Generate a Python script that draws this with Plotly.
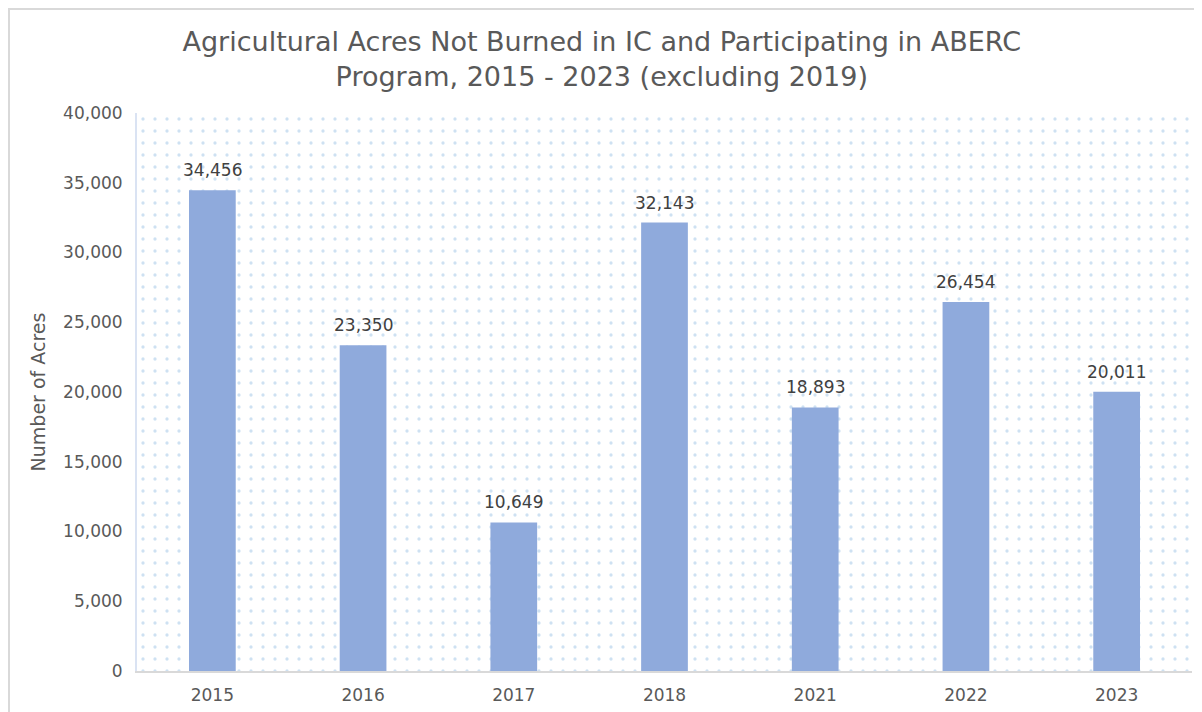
import plotly.graph_objects as go

years = ["2015", "2016", "2017", "2018", "2021", "2022", "2023"]
acres = [34456, 23350, 10649, 32143, 18893, 26454, 20011]
y_ticks = [0, 5000, 10000, 15000, 20000, 25000, 30000, 35000, 40000]

FONT = "DejaVu Sans, Verdana, sans-serif"
GREY = "#595959"

fig = go.Figure()

# dotted background texture on the base (hidden) axes
fig.add_trace(go.Scatter(
    x=[0, 1, 1, 0, 0], y=[0, 0, 1, 1, 0],
    xaxis="x", yaxis="y", mode="lines", line=dict(width=0),
    fill="toself", fillcolor="rgba(0,0,0,0)",
    fillpattern=dict(shape=".", size=12, solidity=0.06, fgcolor="#9dc3e6", bgcolor="white"),
    hoverinfo="skip", showlegend=False,
))

# bars on the overlay axes (drawn above the texture)
fig.add_trace(go.Bar(
    x=years, y=acres, xaxis="x2", yaxis="y2",
    marker=dict(color="#8faadc", line=dict(width=0)),
    showlegend=False,
))

# data labels positioned through the axes (category index on the category axis)
annotations = [
    dict(x=i, y=v, xref="x2", yref="y2", text=f"{v:,}", showarrow=False,
         yanchor="middle", yshift=20,
         font=dict(family=FONT, size=17, color="#404040"))
    for i, v in enumerate(acres)
]

# plot area: page x 137..1192, y 113..671, page offset by 8px body margin
L, T = 129, 105
PW, PH = 1055, 558

fig.update_layout(
    width=1202, height=712,
    paper_bgcolor="white", plot_bgcolor="white",
    margin=dict(l=L, r=1202 - L - PW, t=T, b=712 - T - PH, autoexpand=False),
    bargap=0.69,
    title=dict(
        text="Agricultural Acres Not Burned in IC and Participating in ABERC<br>Program, 2015 - 2023 (excluding 2019)",
        x=0.494, xanchor="center", xref="container",
        y=0.940, yanchor="middle", yref="container",
        font=dict(family=FONT, size=27, color=GREY),
    ),
    xaxis=dict(range=[0, 1], visible=False, fixedrange=True),
    yaxis=dict(range=[0, 1], visible=False, fixedrange=True),
    xaxis2=dict(
        type="category", overlaying="x", side="bottom", anchor="y2",
        range=[-0.5, len(years) - 0.5],
        showgrid=False, showline=True, linecolor="#d9d9d9", linewidth=2,
        ticks="outside", ticklen=8, tickcolor="rgba(0,0,0,0)",
        tickfont=dict(family=FONT, size=17, color=GREY), automargin=False,
    ),
    yaxis2=dict(
        overlaying="y", side="left", anchor="x2",
        range=[0, 40000], tickvals=y_ticks, tickformat=",", showgrid=False,
        showline=True, linecolor="#dae3f3", linewidth=2,
        ticks="outside", ticklen=9, tickcolor="rgba(0,0,0,0)",
        tickfont=dict(family=FONT, size=17, color=GREY), automargin=False,
        title=dict(text="Number of Acres", font=dict(family=FONT, size=19, color=GREY), standoff=12),
    ),
    annotations=annotations,
    shapes=[dict(
        type="rect", xref="paper", yref="paper",
        x0=(1 - L) / PW, x1=(1190 - L) / PW,
        y0=-0.2, y1=(T + PH - 1) / PH,
        line=dict(color="#d9d9d9", width=2), layer="below",
    )],
)

fig.write_html("out.html")
